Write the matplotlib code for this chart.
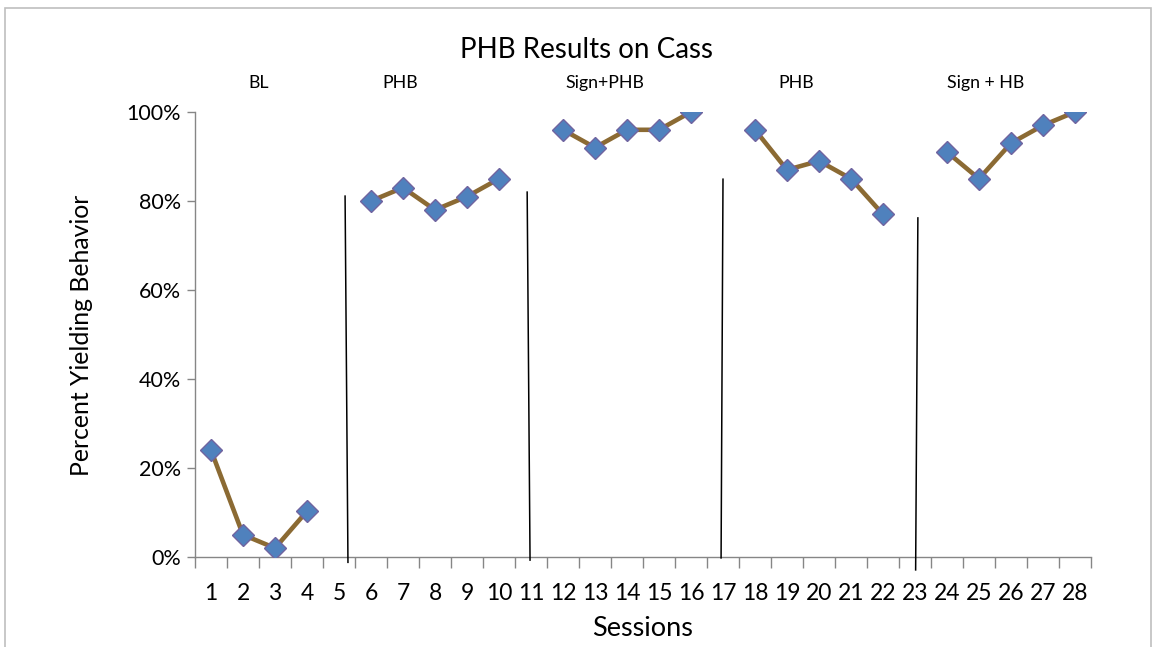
import numpy as np
import matplotlib
matplotlib.use("Agg")
import matplotlib.pyplot as plt
from matplotlib.patches import Rectangle
from matplotlib.lines import Line2D

plt.rcParams['font.family'] = ['Lato', 'DejaVu Sans']

sessions = list(range(1, 29))
percent = [24, 5, 2, 10.3, np.nan,
           80, 83, 78, 81, 85, np.nan,
           96, 92, 96, 96, 100, np.nan,
           96, 87, 89, 85, 77, np.nan,
           91, 85, 93, 97, 100]
phase_labels = ["BL", "PHB", "Sign+PHB", "PHB", "Sign + HB"]
phase_label_x = [2.5, 6.9, 13.3, 19.3, 25.2]
# phase change lines: (x_top, y_top, x_bottom, y_bottom) in data units
phase_lines = [(5.19, 81.1, 5.28, -1.2),
               (10.88, 82.0, 10.97, -0.7),
               (17.0, 84.9, 16.94, -0.2),
               (23.09, 76.2, 23.02, -2.9)]
yticks = [0, 20, 40, 60, 80, 100]

fig = plt.figure(figsize=(11.52, 6.47), dpi=100)
ax = fig.add_axes([195/1152, 1-557/647, (1091-195)/1152, (557-112)/647])

ax.plot(sessions, percent, color='#8B6A33', lw=3.3, zorder=3,
        marker='D', ms=11, mfc='#4F81BD', mec='#7064A0', mew=1.0)

ax.set_xlim(0.5, 28.5)
ax.set_ylim(0, 100)

ax.set_xticks(np.arange(0.5, 29, 1))
ax.set_xticklabels([])
ax.set_xticks(sessions, minor=True)
ax.set_xticklabels([str(s) for s in sessions], minor=True, fontsize=16.5)
ax.tick_params(axis='x', which='major', direction='out', length=8, width=1, color='#868686')
ax.tick_params(axis='x', which='minor', length=0, pad=19)

ax.set_yticks(yticks)
ax.set_yticklabels([f"{v}%" for v in yticks], fontsize=15.5)
ax.tick_params(axis='y', direction='out', length=6, width=1, color='#868686', pad=4)

for side in ['top', 'right']:
    ax.spines[side].set_visible(False)
for side in ['left', 'bottom']:
    ax.spines[side].set_color('#868686')
    ax.spines[side].set_linewidth(1)

ax.set_xlabel("Sessions", fontsize=19.5)
ax.xaxis.set_label_coords((643-195)/896, -(628-557)/445)
ax.xaxis.label.set_va('center')
ax.set_ylabel("Percent Yielding Behavior", fontsize=17.8)
ax.yaxis.set_label_coords(-(195-82)/896, (557-335)/445)
ax.yaxis.label.set_va('center')

for lab, lx in zip(phase_labels, phase_label_x):
    ax.text(lx, 106.5, lab, ha='center', va='center', fontsize=12.8, clip_on=False)

for (xt, yt, xb, yb) in phase_lines:
    ax.add_line(Line2D([xt, xb], [yt, yb], color='black', lw=1.1, clip_on=False, zorder=4))

fig.text(586/1152, 1-50/647, "PHB Results on Cass", ha='center', va='center', fontsize=20)

# outer chart frame
fig.patches.append(Rectangle((5/1152, -0.05), (1151-5)/1152, 1.05 - 8/647,
                             transform=fig.transFigure, fill=False,
                             edgecolor='#BFBFBF', lw=1.2))

fig.savefig("out.png", dpi=100)
